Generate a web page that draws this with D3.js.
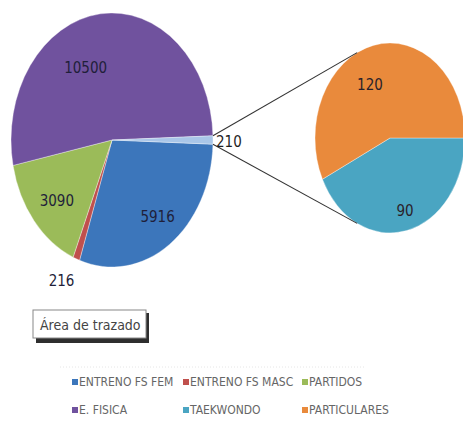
<!DOCTYPE html>
<html><head><meta charset="utf-8">
<script src="https://cdn.jsdelivr.net/npm/d3@7"></script>
<style>body{margin:0;background:#fff}svg{display:block}</style>
</head><body>
<script>
const mainCategories = ["ENTRENO FS FEM","ENTRENO FS MASC","PARTIDOS","E. FISICA"];
const mainValues = [5916, 216, 3090, 10500];
const otherLabel = "210";
const subCategories = ["TAEKWONDO","PARTICULARES"];
const subValues = [90, 120];
const legendOrder = ["ENTRENO FS FEM","ENTRENO FS MASC","PARTIDOS","E. FISICA","TAEKWONDO","PARTICULARES"];
const colors = {"ENTRENO FS FEM":"#3C76BB","ENTRENO FS MASC":"#C0504D","PARTIDOS":"#9BBB59","E. FISICA":"#70529E","TAEKWONDO":"#4AA5C2","PARTICULARES":"#E98A3C","OTRO":"#A9C6E8"};

const W=463,H=421;
const svg=d3.select("body").append("svg").attr("width",W).attr("height",H);

const otherTotal=d3.sum(subValues);
const mainData=mainCategories.map((c,i)=>({cat:c,value:mainValues[i]})).concat([{cat:"OTRO",value:otherTotal}]);
const total=d3.sum(mainData,d=>d.value);
const half=Math.PI*otherTotal/total;

// main pie (elliptical)
const M={cx:112,cy:140,rx:101,ry:127};
const mainPie=d3.pie().sort(null).value(d=>d.value).startAngle(Math.PI/2+half).endAngle(Math.PI/2+half+2*Math.PI);
const mArcs=mainPie(mainData);
const arcM=d3.arc().innerRadius(0).outerRadius(M.ry);
const gM=svg.append("g").attr("transform",`translate(${M.cx},${M.cy}) scale(${M.rx/M.ry},1)`);
gM.selectAll("path").data(mArcs).join("path").attr("d",arcM).attr("fill",d=>colors[d.data.cat])
  .attr("stroke","#fff").attr("stroke-width",0.4);

// secondary pie
const S={cx:390,cy:138,rx:75,ry:95};
const subData=subCategories.map((c,i)=>({cat:c,value:subValues[i]}));
const subPie=d3.pie().sort(null).value(d=>d.value).startAngle(Math.PI/2).endAngle(Math.PI/2+2*Math.PI);
const sArcs=subPie(subData);
const arcS=d3.arc().innerRadius(0).outerRadius(S.ry);
const gS=svg.append("g").attr("transform",`translate(${S.cx},${S.cy}) scale(${S.rx/S.ry},1)`);
gS.selectAll("path").data(sArcs).join("path").attr("d",arcS).attr("fill",d=>colors[d.data.cat])
  .attr("stroke","#fff").attr("stroke-width",0.4);

// connector lines
function pt(P,a,k=1){return [P.cx+P.rx*k*Math.sin(a), P.cy-P.ry*k*Math.cos(a)];}
const oArc=mArcs[mArcs.length-1];
const conn=[[pt(M,oArc.startAngle),pt(S,334*Math.PI/180)],[pt(M,oArc.endAngle),pt(S,206*Math.PI/180)]];
svg.selectAll("line.conn").data(conn).join("line").attr("class","conn")
  .attr("x1",d=>d[0][0]).attr("y1",d=>d[0][1]).attr("x2",d=>d[1][0]).attr("y2",d=>d[1][1])
  .attr("stroke","#333").attr("stroke-width",1.1);

// labels
const font="'Liberation Sans Narrow','DejaVu Sans Condensed','Liberation Sans',sans-serif";
const mainLab=[
  {t:String(mainValues[0]),a:mArcs[0],k:0.62,dx:10,dy:12},
  {t:String(mainValues[1]),a:mArcs[1],k:1.16,dx:-9,dy:3},
  {t:String(mainValues[2]),a:mArcs[2],k:0.72,dx:1,dy:3},
  {t:String(mainValues[3]),a:mArcs[3],k:0.62,dx:-19,dy:6}
];
mainLab.forEach(L=>{
  const mid=(L.a.startAngle+L.a.endAngle)/2;
  const p=pt(M,mid,L.k);
  svg.append("text").attr("x",p[0]+L.dx).attr("y",p[1]+L.dy).attr("text-anchor","middle").attr("dominant-baseline","central")
    .attr("font-family",font).attr("font-size",15).attr("fill","#1f1f3a").text(L.t);
});
{const p=pt(M,(oArc.startAngle+oArc.endAngle)/2,1.0);
 svg.append("text").attr("x",p[0]+3).attr("y",p[1]+2).attr("dominant-baseline","central")
  .attr("font-family",font).attr("font-size",15).attr("fill","#1f1f1f").text(otherLabel);}
const subOff=[[5,17],[-10,3]];
sArcs.forEach((a,i)=>{
  const mid=(a.startAngle+a.endAngle)/2;
  const p=pt(S,mid,0.6);
  svg.append("text").attr("x",p[0]+subOff[i][0]).attr("y",p[1]+subOff[i][1]).attr("text-anchor","middle").attr("dominant-baseline","central")
    .attr("font-family",font).attr("font-size",15).attr("fill","#2a1f2a").text(String(subValues[i]));
});

// tooltip box
svg.append("rect").attr("x",36).attr("y",313).attr("width",113).attr("height",30).attr("fill","#2e2e2e");
svg.append("rect").attr("x",33).attr("y",310).attr("width",113).attr("height",28).attr("fill","#fff").attr("stroke","#888").attr("stroke-width",1);
svg.append("text").attr("x",40).attr("y",325).attr("dominant-baseline","central").attr("font-family",font)
  .attr("font-size",14).attr("fill","#444").text("Área de trazado");

// legend
svg.append("line").attr("x1",60).attr("x2",365).attr("y1",367).attr("y2",367)
  .attr("stroke","#e6e6e6").attr("stroke-dasharray","1,2");
const colX=[72,183,302], rowY=[382,410];
const lg=svg.selectAll("g.lg").data(legendOrder).join("g").attr("class","lg")
  .attr("transform",(d,i)=>`translate(${colX[i%3]},${rowY[Math.floor(i/3)]})`);
lg.append("rect").attr("x",0).attr("y",-3).attr("width",6).attr("height",6).attr("fill",d=>colors[d]);
lg.append("text").attr("x",7).attr("y",0).attr("dominant-baseline","central").attr("font-family",font)
  .attr("font-size",12).attr("fill","#666").text(d=>d);
</script>
</body></html>
